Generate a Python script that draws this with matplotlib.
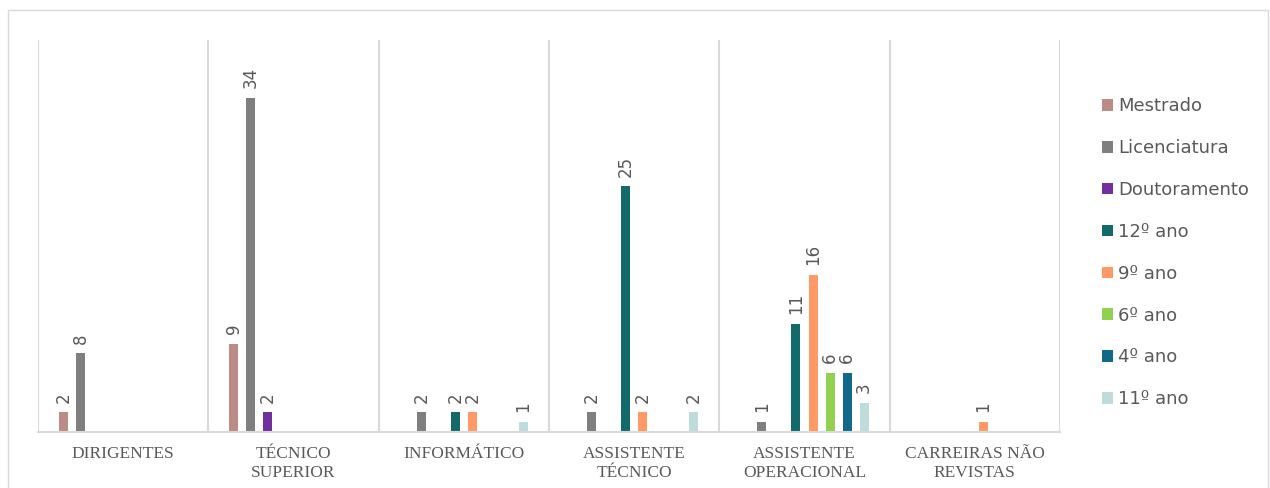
import numpy as np
import matplotlib.pyplot as plt
from matplotlib.patches import Rectangle

categories = ["DIRIGENTES", "TÉCNICO\nSUPERIOR", "INFORMÁTICO",
              "ASSISTENTE\nTÉCNICO", "ASSISTENTE\nOPERACIONAL", "CARREIRAS NÃO\nREVISTAS"]
series = ["Mestrado", "Licenciatura", "Doutoramento", "12º ano",
          "9º ano", "6º ano", "4º ano", "11º ano"]
mestrado = [2, 9, 0, 0, 0, 0]
licenciatura = [8, 34, 2, 2, 1, 0]
doutoramento = [0, 2, 0, 0, 0, 0]
ano12 = [0, 0, 2, 25, 11, 0]
ano9 = [0, 0, 2, 2, 16, 1]
ano6 = [0, 0, 0, 0, 6, 0]
ano4 = [0, 0, 0, 0, 6, 0]
ano11 = [0, 0, 1, 2, 3, 0]
values = [mestrado, licenciatura, doutoramento, ano12, ano9, ano6, ano4, ano11]
colors = ["#bc8b85", "#7f7f7f", "#7030a0", "#136a6a",
          "#ff9966", "#92d050", "#11698a", "#bfdcdc"]

txt = "#595959"
fig = plt.figure(figsize=(12.7, 4.88), dpi=100)
fig.patches.append(Rectangle((8 / 1270, -0.01), 1260 / 1270, 478 / 488 + 0.01,
                             transform=fig.transFigure, fill=False,
                             edgecolor="#d9d9d9", lw=1))
ax = fig.add_axes([38 / 1270, 56 / 488, 1022 / 1270, 392 / 488])

x = np.arange(len(categories))
slot = 0.1
width = 0.053
for i, (name, vals, c) in enumerate(zip(series, values, colors)):
    pos = x + (i - 3.5) * slot
    ax.bar(pos, vals, width=width, color=c, label=name)
    for p, v in zip(pos, vals):
        if v:
            ax.annotate(str(v), (p, v), xytext=(0, 7), textcoords="offset points",
                        rotation=90, ha="center", va="bottom",
                        fontsize=12, color=txt)

ax.set_xlim(-0.5, len(categories) - 0.5)
ax.set_ylim(0, 39.9)
for b in np.arange(len(categories) + 1) - 0.5:
    ax.axvline(b, color="#d9d9d9", lw=1.5, zorder=0)
for s in ["top", "left", "right"]:
    ax.spines[s].set_visible(False)
ax.spines["bottom"].set_color("#d9d9d9")
ax.spines["bottom"].set_linewidth(1.5)
ax.set_yticks([])
ax.set_xticks(x)
ax.set_xticklabels(categories, family="Liberation Serif", fontsize=12.5,
                   color=txt, linespacing=1.3)
ax.tick_params(axis="x", length=0, pad=10)

leg = ax.legend(loc="upper left", bbox_to_anchor=(1048 / 1022, 0.895),
                frameon=False, fontsize=13, labelspacing=1.32,
                handlelength=0.6, handleheight=0.6, handletextpad=0.3)
for t in leg.get_texts():
    t.set_color(txt)

fig.savefig("out.png", dpi=100)
